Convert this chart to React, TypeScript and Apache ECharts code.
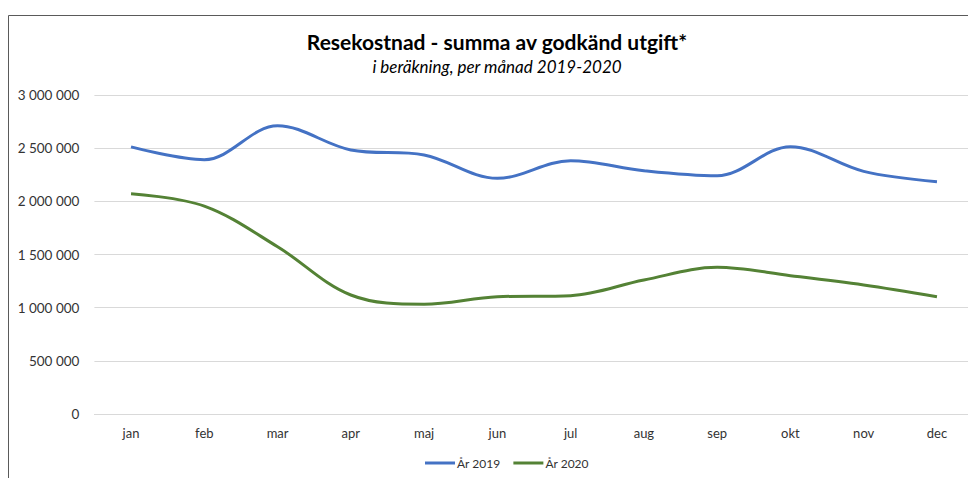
import React, { useEffect, useRef } from "react";
import * as echarts from "echarts";

const months = ["jan", "feb", "mar", "apr", "maj", "jun", "jul", "aug", "sep", "okt", "nov", "dec"];
const year2019 = [2512000, 2392000, 2711000, 2483000, 2436000, 2216000, 2382000, 2288000, 2240000, 2514000, 2282000, 2185000];
const year2020 = [2072000, 1955000, 1573000, 1119000, 1032000, 1103000, 1113000, 1260000, 1380000, 1301000, 1213000, 1103000];
const seriesNames = ["År 2019", "År 2020"];
const titleText = "Resekostnad - summa av godkänd utgift*";
const subtitleText = "i beräkning, per månad 2019-2020";

const FONT = "Lato, 'Liberation Sans', sans-serif";

function fmt(v: number): string {
  return String(v).replace(/\B(?=(\d{3})+(?!\d))/g, " ");
}

export default function App() {
  const ref = useRef<HTMLDivElement>(null);
  useEffect(() => {
    if (!ref.current) return;
    const chart = echarts.init(ref.current, null, { renderer: "svg" });
    chart.setOption({
      animation: false,
      backgroundColor: "#ffffff",
      textStyle: { fontFamily: FONT },
      graphic: [
        {
          type: "rect",
          shape: { x: 0.5, y: 7.5, width: 1000, height: 600 },
          style: { fill: "none", stroke: "#5a5a5a", lineWidth: 1 },
          silent: true,
          z: -1,
        },
        {
          type: "text",
          x: 489,
          y: 33,
          style: {
            text: titleText,
            fontFamily: FONT,
            fontSize: 21,
            fontWeight: "bold",
            fill: "#000000",
            align: "center",
            verticalAlign: "middle",
          },
        },
        {
          type: "text",
          x: 489,
          y: 58,
          style: {
            text: subtitleText,
            fontFamily: FONT,
            fontSize: 17,
            fontStyle: "italic",
            fill: "#000000",
            align: "center",
            verticalAlign: "middle",
          },
        },
      ],
      legend: {
        bottom: 4,
        left: 412,
        data: seriesNames,
        icon: "rect",
        itemWidth: 30,
        itemHeight: 3,
        itemGap: 13,
        textStyle: { fontFamily: FONT, fontSize: 12, color: "#333", padding: [0, 0, 0, -3] },
      },
      grid: { left: 86.4, right: 2.4, top: 87, bottom: 64, containLabel: false },
      xAxis: {
        type: "category",
        data: months,
        boundaryGap: true,
        axisLine: { show: true, lineStyle: { color: "#d9d9d9", width: 1 } },
        axisTick: { show: false },
        axisLabel: { fontFamily: FONT, fontSize: 13, color: "#333", margin: 12 },
      },
      yAxis: {
        type: "value",
        min: 0,
        max: 3000000,
        interval: 500000,
        axisLine: { show: false },
        axisTick: { show: false },
        splitLine: { lineStyle: { color: "#d9d9d9", width: 1 } },
        axisLabel: {
          fontFamily: FONT,
          fontSize: 13.5,
          color: "#333",
          margin: 15,
          formatter: (v: number) => fmt(v),
        },
      },
      series: [
        {
          name: seriesNames[0],
          type: "line",
          data: year2019,
          smooth: 0.35,
          symbol: "none",
          lineStyle: { color: "#4472C4", width: 3 },
          itemStyle: { color: "#4472C4" },
        },
        {
          name: seriesNames[1],
          type: "line",
          data: year2020,
          smooth: 0.35,
          symbol: "none",
          lineStyle: { color: "#548235", width: 3 },
          itemStyle: { color: "#548235" },
        },
      ],
    });
    return () => chart.dispose();
  }, []);
  return <div ref={ref} style={{ width: 968, height: 470 }} />;
}
